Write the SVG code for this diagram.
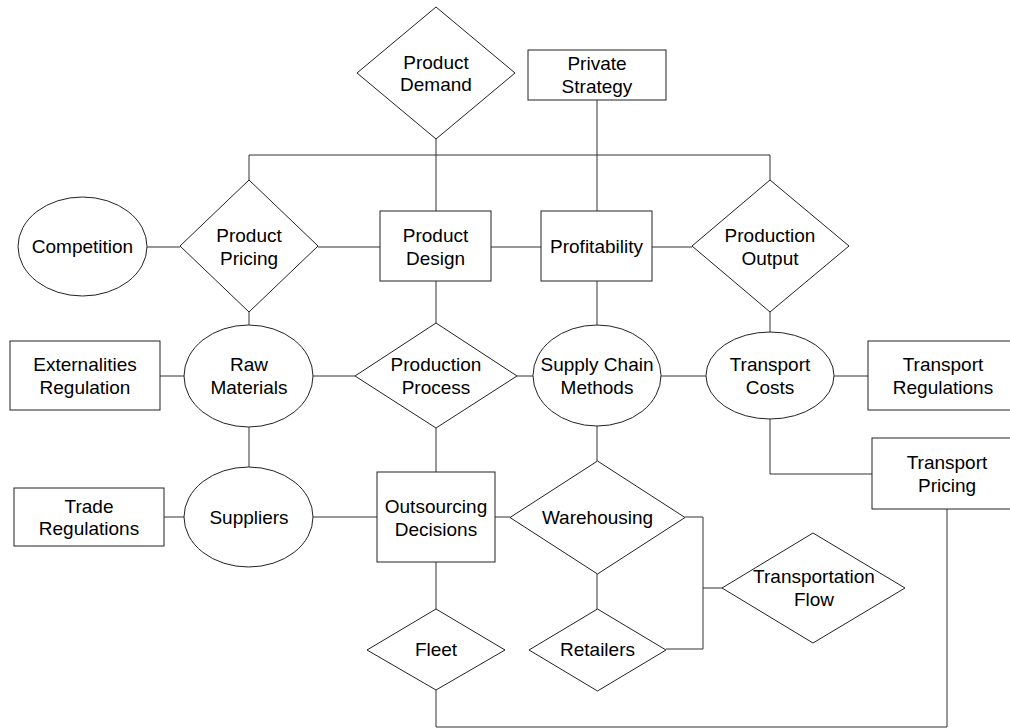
<svg xmlns="http://www.w3.org/2000/svg" width="1010" height="728" viewBox="0 0 1010 728">
<style>
.s{fill:#fff;stroke:#222;stroke-width:1}
.c{fill:none;stroke:#333;stroke-width:1}
text{font-family:"Liberation Sans",Arial,sans-serif;font-size:19px;fill:#000;text-anchor:middle;dominant-baseline:central}
</style>
<rect width="1010" height="728" fill="#fff"/>
<g id="connectors">
<path class="c" d="M249,180 V155 H770 V180"/>
<path class="c" d="M436,139 V211"/>
<path class="c" d="M597,100 V211"/>
<path class="c" d="M147,247 H180"/>
<path class="c" d="M318,247 H380"/>
<path class="c" d="M491,247 H541"/>
<path class="c" d="M652,247 H692"/>
<path class="c" d="M249,312 V325"/>
<path class="c" d="M436,281 V323"/>
<path class="c" d="M597,281 V325"/>
<path class="c" d="M770,312 V332"/>
<path class="c" d="M160,376 H184"/>
<path class="c" d="M313,376 H355"/>
<path class="c" d="M517,376 H533"/>
<path class="c" d="M661,376 H706"/>
<path class="c" d="M834,376 H868"/>
<path class="c" d="M249,427 V467"/>
<path class="c" d="M436,428 V472"/>
<path class="c" d="M597,426 V461"/>
<path class="c" d="M770,419 V474 H872"/>
<path class="c" d="M164,517 H184"/>
<path class="c" d="M313,517 H377"/>
<path class="c" d="M495,517 H510"/>
<path class="c" d="M685,517 H703 V649 H666"/>
<path class="c" d="M703,588 H722"/>
<path class="c" d="M597,574 V609"/>
<path class="c" d="M436,562 V609"/>
<path class="c" d="M436,690 V727 H947 V509"/>
</g>
<g id="product-demand">
<polygon class="s" points="436,7 515,73 436,139 357,73"/>
<text x="436" y="62">Product</text><text x="436" y="84">Demand</text>
</g>
<g id="private-strategy">
<rect class="s" x="528" y="50" width="138" height="50"/>
<text x="597" y="63">Private</text><text x="597" y="86">Strategy</text>
</g>
<g id="competition">
<ellipse class="s" cx="82.5" cy="246.5" rx="64.5" ry="49.5"/>
<text x="82.5" y="246">Competition</text>
</g>
<g id="product-pricing">
<polygon class="s" points="249,180 318,246 249,312 180,246"/>
<text x="249" y="235">Product</text><text x="249" y="258">Pricing</text>
</g>
<g id="product-design">
<rect class="s" x="380" y="211" width="111" height="70"/>
<text x="435.5" y="235">Product</text><text x="435.5" y="258">Design</text>
</g>
<g id="profitability">
<rect class="s" x="541" y="211" width="111" height="70"/>
<text x="596.5" y="246">Profitability</text>
</g>
<g id="production-output">
<polygon class="s" points="770,180 849,246 770,312 692,246"/>
<text x="770" y="235">Production</text><text x="770" y="258">Output</text>
</g>
<g id="externalities-regulation">
<rect class="s" x="10" y="341" width="150" height="69"/>
<text x="85" y="364">Externalities</text><text x="85" y="387">Regulation</text>
</g>
<g id="raw-materials">
<ellipse class="s" cx="248.5" cy="376" rx="64.5" ry="51"/>
<text x="249" y="364">Raw</text><text x="249" y="387">Materials</text>
</g>
<g id="production-process">
<polygon class="s" points="436,323 517,376 436,428 355,376"/>
<text x="436" y="364">Production</text><text x="436" y="387">Process</text>
</g>
<g id="supply-chain-methods">
<ellipse class="s" cx="597" cy="375.5" rx="64" ry="50.5"/>
<text x="597" y="364">Supply Chain</text><text x="597" y="387">Methods</text>
</g>
<g id="transport-costs">
<ellipse class="s" cx="770" cy="375.5" rx="64" ry="43.5"/>
<text x="770" y="364">Transport</text><text x="770" y="387">Costs</text>
</g>
<g id="transport-regulations">
<rect class="s" x="868" y="341" width="150" height="69"/>
<text x="943" y="364">Transport</text><text x="943" y="387">Regulations</text>
</g>
<g id="transport-pricing">
<rect class="s" x="872" y="438" width="150" height="71"/>
<text x="947" y="462">Transport</text><text x="947" y="485">Pricing</text>
</g>
<g id="trade-regulations">
<rect class="s" x="14" y="488" width="150" height="58"/>
<text x="89" y="506">Trade</text><text x="89" y="528">Regulations</text>
</g>
<g id="suppliers">
<ellipse class="s" cx="248.5" cy="517" rx="64.5" ry="50"/>
<text x="249" y="517">Suppliers</text>
</g>
<g id="outsourcing-decisions">
<rect class="s" x="377" y="472" width="118" height="90"/>
<text x="436" y="506">Outsourcing</text><text x="436" y="529">Decisions</text>
</g>
<g id="warehousing">
<polygon class="s" points="597.5,461 685,517.5 597.5,574 510,517.5"/>
<text x="597.5" y="517">Warehousing</text>
</g>
<g id="transportation-flow">
<polygon class="s" points="813,533 905,588 813,643 722,588"/>
<text x="814" y="576">Transportation</text><text x="814" y="599">Flow</text>
</g>
<g id="fleet">
<polygon class="s" points="436,609 505,650 436,690 367,650"/>
<text x="436" y="649">Fleet</text>
</g>
<g id="retailers">
<polygon class="s" points="597.5,609 666,650 597.5,691 529,650"/>
<text x="597.5" y="649">Retailers</text>
</g>
</svg>
